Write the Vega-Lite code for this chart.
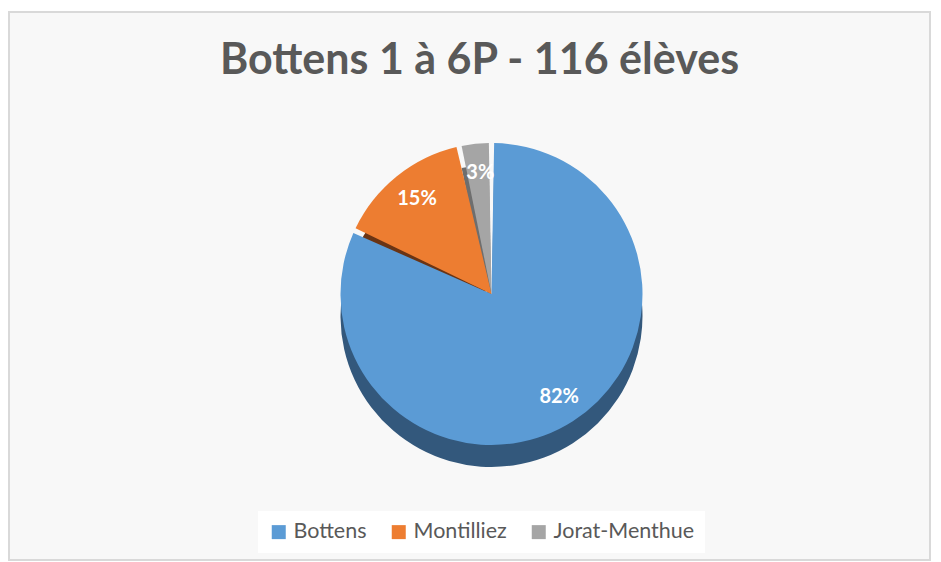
{
  "$schema": "https://vega.github.io/schema/vega-lite/v6.json",
  "autosize": {"type": "fit", "contains": "padding"},
  "width": 941,
  "height": 562,
  "padding": {"left": 8, "top": 11, "right": 10, "bottom": 1},
  "background": "white",
  "title": {
    "text": "Bottens 1 à 6P - 116 élèves",
    "orient": "top",
    "anchor": "middle",
    "frame": "group",
    "offset": -64,
    "dy": 42,
    "dx": 10,
    "baseline": "alphabetic",
    "font": "Lato",
    "fontSize": 43,
    "fontWeight": "bold",
    "color": "#595959"
  },
  "layer": [
    {
      "data": {"values": [{"fond": 1}]},
      "mark": {"type": "rect", "fill": "#f8f8f8", "stroke": "#d9d9d9", "strokeWidth": 2},
      "encoding": {}
    },
    {
      "data": {
        "name": "ecoles",
        "values": [
          {"ecole": "Bottens", "eleves": 95, "ordre": 1, "label": "82%", "ombre": "#33587c"},
          {"ecole": "Montilliez", "eleves": 17, "ordre": 2, "label": "15%", "ombre": "#6a3414"},
          {"ecole": "Jorat-Menthue", "eleves": 4, "ordre": 3, "label": "3%", "ombre": "#6e6e6e"}
        ]
      },
      "encoding": {
        "theta": {"field": "eleves", "type": "quantitative", "stack": true},
        "order": {"field": "ordre", "type": "quantitative"}
      },
      "layer": [
        {
          "mark": {"type": "arc", "radius": 151, "padAngle": 0.035, "yOffset": 30, "xOffset": 22},
          "encoding": {
            "color": {"field": "ombre", "type": "nominal", "scale": null}
          }
        },
        {
          "mark": {"type": "arc", "radius": 151, "padAngle": 0.035, "yOffset": 8, "xOffset": 22},
          "encoding": {
            "color": {
              "field": "ecole",
              "type": "nominal",
              "sort": ["Bottens", "Montilliez", "Jorat-Menthue"],
              "scale": {"domain": ["Bottens", "Montilliez", "Jorat-Menthue"], "range": ["#5b9bd5", "#ed7d31", "#a5a5a5"]},
              "legend": {
                "title": null,
                "orient": "none",
                "direction": "horizontal",
                "legendX": 249,
                "legendY": 499,
                "padding": 10,
                "fillColor": "white",
                "symbolType": "square",
                "symbolSize": 196,
                "symbolStrokeWidth": 0,
                "labelFont": "Lato",
                "labelFontSize": 21.5,
                "labelColor": "#595959",
                "columnPadding": 21,
                "labelOffset": 4
              }
            }
          }
        },
        {
          "mark": {"type": "text", "radius": 122, "xOffset": 24, "yOffset": 8, "font": "Lato", "fontSize": 20, "fontWeight": "bold", "fill": "white"},
          "encoding": {
            "text": {"field": "label", "type": "nominal"}
          }
        }
      ]
    }
  ],
  "config": {
    "view": {"stroke": null}
  }
}
